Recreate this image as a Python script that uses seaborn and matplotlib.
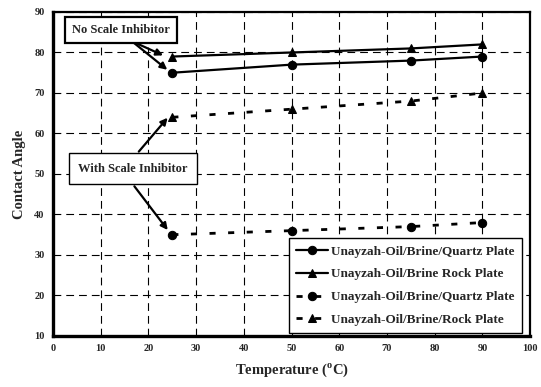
import numpy as np
import pandas as pd
import matplotlib
matplotlib.use("Agg")
import matplotlib.pyplot as plt
import seaborn as sns

temperature = [25, 50, 75, 90]
no_inh_quartz = [75, 77, 78, 79]
no_inh_rock = [79, 80, 81, 82]
inh_quartz = [35, 36, 37, 38]
inh_rock = [64, 66, 68, 70]

labels = ["Unayzah-Oil/Brine/Quartz Plate", "Unayzah-Oil/Brine Rock Plate",
          "Unayzah-Oil/Brine/Quartz Plate", "Unayzah-Oil/Brine/Rock Plate"]
series = [no_inh_quartz, no_inh_rock, inh_quartz, inh_rock]
markers = ["o", "^", "o", "^"]
dashed = [False, False, True, True]

sns.set_style("white")
plt.rcParams["font.family"] = ["Liberation Serif", "DejaVu Serif"]
plt.rcParams["font.weight"] = "bold"
plt.rcParams["mathtext.fontset"] = "custom"
plt.rcParams["mathtext.rm"] = "Liberation Serif:bold"
plt.rcParams["mathtext.bf"] = "Liberation Serif:bold"

fig = plt.figure(figsize=(5.41, 3.87), dpi=100)
ax = fig.add_axes([0.098, 0.132, 0.882, 0.837])

for ys, lab, m, d in zip(series, labels, markers, dashed):
    sns.lineplot(x=temperature, y=ys, ax=ax, color="black", marker=m,
                 markersize=6, markeredgecolor="black",
                 linewidth=2.0 if d else 1.6, label=lab)
    if d:
        ax.lines[-1].set_dashes((2.2, 4.5))

ax.set_xlim(0, 100)
ax.set_ylim(10, 90)
ax.set_xticks(np.arange(0, 101, 10))
ax.set_yticks(np.arange(10, 91, 10))
ax.tick_params(length=0, labelsize=7.5, pad=6)
for t in ax.get_xticklabels() + ax.get_yticklabels():
    t.set_fontweight("bold")

ax.grid(True, color="black", linewidth=0.8, linestyle=(0, (7, 4.5)))
for side in ["left", "bottom"]:
    ax.spines[side].set_linewidth(2.4)
for side in ["top", "right"]:
    ax.spines[side].set_linewidth(1.6)
for s in ax.spines.values():
    s.set_color("black")

ax.set_xlabel(r"Temperature ($^{\mathrm{o}}$C)", fontsize=10.5, fontweight="bold", labelpad=6)
ax.set_ylabel("Contact Angle", fontsize=10.5, fontweight="bold", labelpad=6)

leg = ax.legend(loc="lower right", fontsize=9.5, frameon=True, fancybox=False,
                edgecolor="black", framealpha=1, handlelength=2.4,
                borderpad=0.55, labelspacing=0.8, handletextpad=0.25,
                borderaxespad=0, bbox_to_anchor=(0.982, 0.008))
leg.get_frame().set_linewidth(1.0)
for t in leg.get_texts():
    t.set_fontweight("bold")

box = dict(boxstyle="square,pad=0.55", facecolor="white", edgecolor="black", linewidth=1.6)
arrow = dict(arrowstyle="-|>", color="black", linewidth=1.6, mutation_scale=10)

ax.annotate("", xy=(23.6, 79.0), xytext=(16.5, 82.8), arrowprops=arrow)
ax.annotate("", xy=(24.4, 75.3), xytext=(16.5, 82.8), arrowprops=arrow)
ax.text(14.2, 85.6, "No Scale Inhibitor", fontsize=9, fontweight="bold",
        ha="center", va="center", bbox=box, zorder=5)

ax.annotate("", xy=(24.4, 64.4), xytext=(17.6, 55.0), arrowprops=arrow)
ax.annotate("", xy=(24.4, 35.6), xytext=(16.7, 47.5), arrowprops=arrow)
ax.text(16.8, 51.3, "With Scale Inhibitor", fontsize=9, fontweight="bold",
        ha="center", va="center", bbox=dict(boxstyle="square,pad=0.75", facecolor="white",
                                            edgecolor="black", linewidth=1.0), zorder=5)

fig.savefig("out.png", dpi=100)
